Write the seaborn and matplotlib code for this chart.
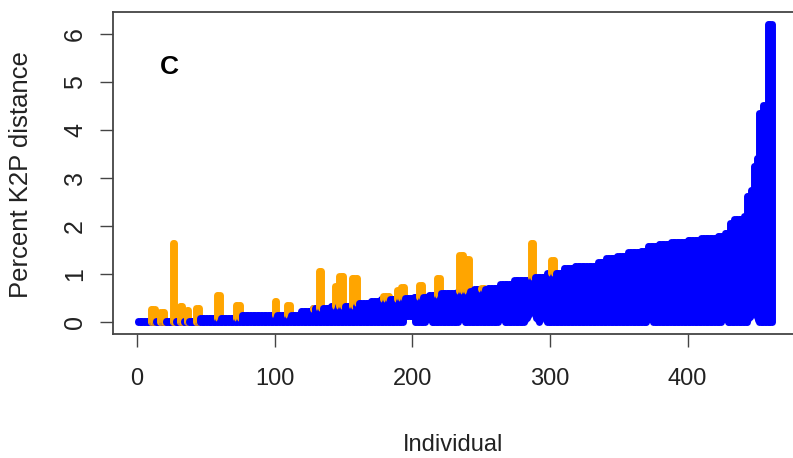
import numpy as np
import matplotlib
matplotlib.use("Agg")
import matplotlib.pyplot as plt
import seaborn as sns

# ===== DADOS =====
n_individuals = 461

# distância interespecífica ordenada: degraus (primeiro indivíduo, valor)
curve_start = [1, 46, 76, 119, 128, 141, 159, 170, 177, 190,
               201, 212, 221, 233, 245, 255, 264, 274, 286, 298,
               310, 318, 335, 341, 349, 357, 366, 371, 379, 388,
               400, 410, 422, 427, 431, 434, 441, 443, 446, 448,
               450, 452, 455, 458]
curve_value = [0.0, 0.08, 0.15, 0.24, 0.30, 0.33, 0.39, 0.43, 0.49, 0.51,
               0.53, 0.56, 0.60, 0.64, 0.68, 0.72, 0.80, 0.87, 0.95, 1.02,
               1.12, 1.17, 1.25, 1.33, 1.37, 1.46, 1.48, 1.58, 1.62, 1.68,
               1.71, 1.75, 1.79, 1.86, 2.06, 2.15, 2.21, 2.63, 2.76, 3.26,
               3.43, 4.37, 4.52, 6.22]

# grupos sem barcode gap (laranja): primeiro, último, distância intra máxima
orange_first = [10, 17, 26, 31, 36, 43, 58, 72, 100, 109, 128, 132, 144,
                147, 156, 179, 189, 192, 205, 218, 234, 238, 250, 286, 301]
orange_last = [13, 20, 27, 33, 37, 45, 60, 75, 101, 111, 128, 134, 145,
               150, 160, 183, 191, 194, 207, 220, 237, 241, 252, 288, 303]
orange_top = [0.27, 0.22, 1.64, 0.33, 0.25, 0.30, 0.56, 0.35, 0.45, 0.35,
              0.28, 1.06, 0.75, 0.97, 0.91, 0.55, 0.66, 0.74, 0.77, 0.91,
              1.39, 1.32, 0.72, 1.66, 1.29]

# base das barras azuis acima de zero (entalhes na base)
lo_idx = [194, 195, 196, 197, 198, 199, 200, 201,
          210, 211, 212, 213, 234, 235, 236, 237, 263, 264, 265, 266,
          282, 283, 284, 285, 286, 287, 288, 289, 290, 291,
          293, 294, 295, 296, 297, 371, 372, 373, 374,
          425, 426, 427, 428, 444, 445, 446, 447, 448, 449, 450, 451]
lo_val = [0.10, 0.12, 0.12, 0.12, 0.12, 0.12, 0.12, 0.10,
          0.06, 0.06, 0.06, 0.06, 0.06, 0.06, 0.06, 0.06, 0.06, 0.06, 0.06, 0.06,
          0.04, 0.08, 0.12, 0.17, 0.22, 0.26, 0.20, 0.14, 0.08, 0.04,
          0.05, 0.10, 0.13, 0.10, 0.05, 0.06, 0.06, 0.06, 0.06,
          0.06, 0.07, 0.07, 0.06, 0.06, 0.10, 0.14, 0.18, 0.20, 0.16, 0.10, 0.05]

x_ticks = [0, 100, 200, 300, 400]
y_ticks = [0, 1, 2, 3, 4, 5, 6]

BLUE = "#0000FF"
ORANGE = "#FFA500"
FRAME = "#444444"
TEXT = "#222222"

# ===== ESTILO =====
sns.set_theme(style="ticks")
plt.rcParams["font.family"] = ["Liberation Sans", "DejaVu Sans"]

# ===== SEGMENTOS (na ordem dos indivíduos, como segments() do R) =====
counts = np.diff(curve_start + [n_individuals + 1])
curve = np.repeat(curve_value, counts)
lo = np.zeros(n_individuals)
for i, v in zip(lo_idx, lo_val):
    lo[i - 1] = v
top = {}
for f, l, t in zip(orange_first, orange_last, orange_top):
    for i in range(f, l + 1):
        top[i] = t

seg_x, seg_lo, seg_hi, seg_col = [], [], [], []
for i in range(1, n_individuals + 1):
    # barra de comprimento zero ainda aparece como ponto no R
    seg_x.append(i)
    seg_lo.append(lo[i - 1])
    seg_hi.append(max(curve[i - 1], lo[i - 1] + 0.03))
    seg_col.append(BLUE)
    if i in top:
        seg_x.append(i)
        seg_lo.append(curve[i - 1])
        seg_hi.append(top[i])
        seg_col.append(ORANGE)

fig = plt.figure(figsize=(7.93, 4.58), dpi=100)
ax = fig.add_axes([113 / 793, 124 / 458, 684 / 793, 322 / 458])
ax.vlines(seg_x, seg_lo, seg_hi, colors=seg_col, linewidth=5, capstyle="round")

span = n_individuals - 1
ax.set_xlim(1 - 0.04 * span, n_individuals + 0.04 * span)
ymax = max(curve_value + orange_top)
ax.set_ylim(-0.04 * ymax, ymax * 1.04)

for s in ax.spines.values():
    s.set_color(FRAME)
    s.set_linewidth(1.3)

ax.set_xticks(x_ticks)
ax.set_xticklabels([str(t) for t in x_ticks], fontsize=17, color=TEXT)
ax.set_yticks(y_ticks)
ax.set_yticklabels([str(t) for t in y_ticks], fontsize=18, rotation=90, va="center", color=TEXT)
ax.tick_params(axis="both", direction="out", length=9.4, width=1.0, color=FRAME)
ax.tick_params(axis="x", pad=15)
ax.tick_params(axis="y", pad=9.4)

ax.set_xlabel("Individual", fontsize=17, color=TEXT, va="center")
ax.xaxis.set_label_coords(0.497, -0.345)
ax.set_ylabel("Percent K2P distance", fontsize=18.5, color=TEXT, va="center")
ax.yaxis.set_label_coords(-0.1345, 0.494)

ax.text(0.082, 0.829, "C", transform=ax.transAxes, fontsize=19, fontweight="bold",
        family=["Liberation Sans", "DejaVu Sans"], ha="center", va="center", color="black")

fig.savefig("out.png", dpi=100)
